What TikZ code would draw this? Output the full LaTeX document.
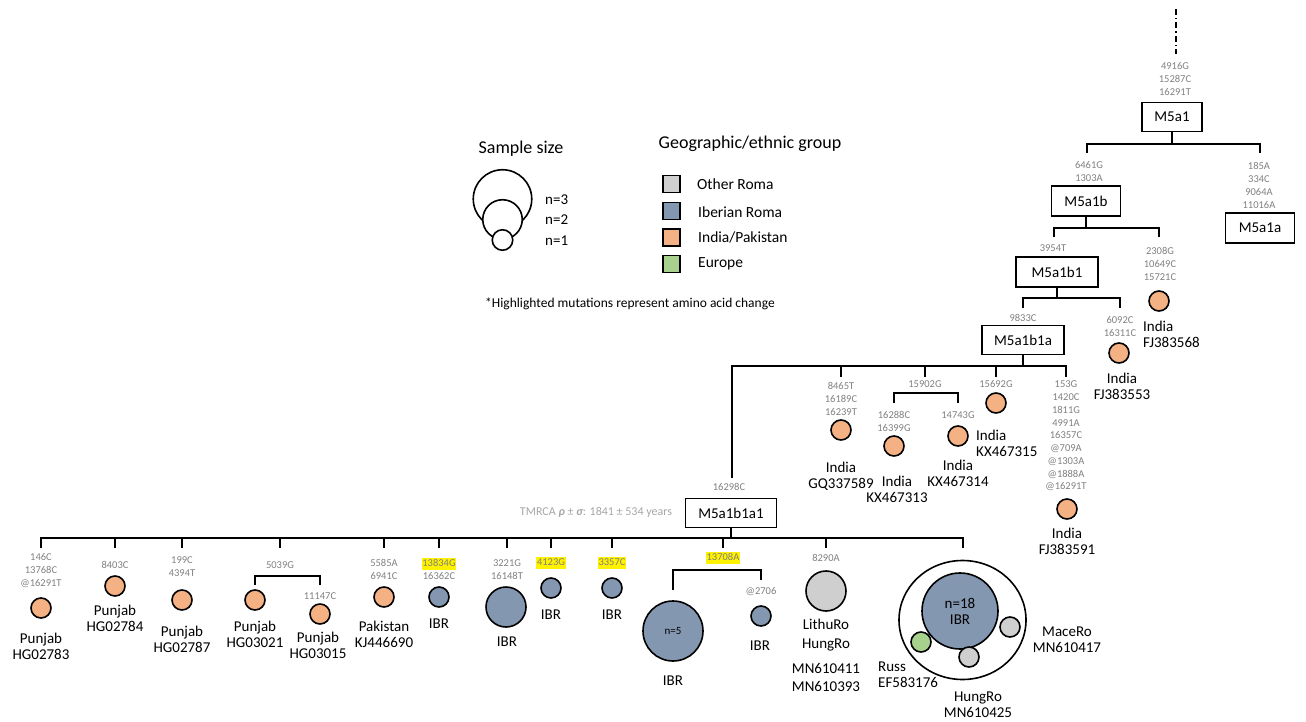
\documentclass[tikz,border=0pt]{standalone}
\usepackage{fontspec}
\setmainfont{Carlito}
\usepackage{xcolor}
\usetikzlibrary{shapes.geometric}
\definecolor{orng}{HTML}{F4B183}
\definecolor{ibr}{HTML}{8497B0}
\definecolor{oth}{HTML}{CFCFCF}
\definecolor{eur}{HTML}{A9D18E}
\definecolor{mut}{HTML}{808080}
\definecolor{tmr}{HTML}{A6A6A6}
\newcommand{\hlm}[1]{{\setlength{\fboxsep}{0.8pt}\colorbox{yellow}{\rule[-2.4pt]{0pt}{9.6pt}#1}}}
\tikzset{
  tline/.style={line width=1.7pt, black},
  hbox/.style={draw, line width=1.7pt, inner sep=0pt, font=\fontsize{15}{16}\selectfont},
  mutn/.style={text=mut, font=\fontsize{10.5}{13}\selectfont, align=center, inner sep=0pt},
  lbl/.style={font=\fontsize{15}{16}\selectfont, align=center, inner sep=0pt},
  smp/.style={circle, draw, line width=1.6pt, inner sep=0pt},
  s1/.style={smp, minimum size=20pt},
  s2/.style={smp, minimum size=40pt},
  oc/.style={s1, fill=orng},
  bc/.style={s1, fill=ibr},
  gc/.style={s1, fill=oth},
  leg/.style={draw, line width=1.4pt, minimum size=17pt, inner sep=0pt},
  legt/.style={font=\fontsize{15.5}{16}\selectfont, anchor=west, inner sep=0pt}
}
\begin{document}
\begin{tikzpicture}[x=1pt,y=-1pt]
\useasboundingbox (0,0) rectangle (1306,722);

% ---------- legend ----------
\node[font=\fontsize{18}{20}\selectfont, inner sep=0pt] (ssz) at (521,149) {Sample size};
\node[smp, fill=white, minimum size=58.5pt] (lc3) at (502.5,199) {};
\node[smp, fill=white, minimum size=39.5pt] (lc2) at (502.5,219.5) {};
\node[smp, fill=white, minimum size=20.5pt] (lc1) at (502.5,240) {};
\node[lbl, anchor=west] (n3) at (545,200) {n=3};
\node[lbl, anchor=west] (n2) at (545,220) {n=2};
\node[lbl, anchor=west] (n1) at (545,241) {n=1};

\node[font=\fontsize{18}{20}\selectfont, inner sep=0pt] (geo) at (750,144) {Geographic/ethnic group};
\node[leg, fill=oth] (sq1) at (671.5,184) {};
\node[leg, fill=ibr] (sq2) at (671.5,211) {};
\node[leg, fill=orng] (sq3) at (671.5,237.5) {};
\node[leg, fill=eur] (sq4) at (671.5,264) {};
\node[legt] (t1) at (697,184) {Other Roma};
\node[legt] (t2) at (698,212) {Iberian Roma};
\node[legt] (t3) at (698,237.5) {India/Pakistan};
\node[legt] (t4) at (698,264) {Europe};
\node[font=\fontsize{13.5}{15}\selectfont, inner sep=0pt] (foot) at (630,304) {*Highlighted mutations represent amino acid change};

% ---------- top of tree ----------
\coordinate (top) at (1176,9);
\coordinate (topend) at (1176,54);
\draw[line width=1.7pt, dash pattern=on 6pt off 3pt on 1.5pt off 3pt] (top) -- (topend);
\node[mutn] (mu1) at (1175,79) {4916G\\15287C\\16291T};
\node[hbox, minimum width=60pt, minimum height=29pt] (M5a1) at (1172,117) {M5a1};

\coordinate (h1) at (1172,144);
\coordinate (d1a) at (1087,153);
\coordinate (d1b) at (1260,153);
\draw[tline] (M5a1.south) -- (h1);
\draw[tline] (d1a) -- (d1a |- h1) -- (d1b |- h1) -- (d1b);

\node[mutn] (mu2) at (1089,171.5) {6461G\\1303A};
\node[hbox, minimum width=69pt, minimum height=30pt] (M5a1b) at (1086,201) {M5a1b};
\node[mutn] (mu3) at (1259,185.5) {185A\\334C\\9064A\\11016A};
\node[hbox, minimum width=69pt, minimum height=30pt] (M5a1a) at (1260,228) {M5a1a};

\coordinate (h2) at (1086,228);
\coordinate (d2a) at (1054,237);
\coordinate (d2b) at (1159,237);
\draw[tline] (M5a1b.south) -- (h2);
\draw[tline] (d2a) -- (d2a |- h2) -- (d2b |- h2) -- (d2b);

\node[mutn] (mu4) at (1053,248) {3954T};
\node[hbox, minimum width=82pt, minimum height=30pt] (M5a1b1) at (1057,272) {M5a1b1};
\node[mutn] (mu5) at (1160,264) {2308G\\10649C\\15721C};
\node[oc] (c1) at (1159,301) {};
\node[lbl, align=left, anchor=west] (l1) at (1143,334) {India\\FJ383568};

\coordinate (h3) at (1057,298);
\coordinate (d3a) at (1023,308);
\coordinate (d3b) at (1120,308);
\draw[tline] (M5a1b1.south) -- (h3);
\draw[tline] (d3a) -- (d3a |- h3) -- (d3b |- h3) -- (d3b);

\node[mutn] (mu6) at (1023,318) {9833C};
\node[hbox, minimum width=82pt, minimum height=29pt] (M5a1b1a) at (1023,340) {M5a1b1a};
\node[mutn] (mu7) at (1120,326.5) {6092C\\16311C};
\node[oc] (c2) at (1119,353) {};
\node[lbl] (l2) at (1122,386) {India\\FJ383553};

% ---------- M5a1b1a branches ----------
\coordinate (h4) at (1023,366);
\coordinate (d4z) at (732,478);
\coordinate (d4a) at (841,377);
\coordinate (d4b) at (925,377);
\coordinate (d4c) at (996,377);
\coordinate (d4d) at (1066,377);
\draw[tline] (M5a1b1a.south) -- (h4);
\draw[tline] (d4z) -- (d4z |- h4) -- (d4d |- h4) -- (d4d);
\draw[tline] (d4a |- h4) -- (d4a);
\draw[tline] (d4b |- h4) -- (d4b);
\draw[tline] (d4c |- h4) -- (d4c);

\node[mutn] (mu8) at (841,399) {8465T\\16189C\\16239T};
\node[oc] (c3) at (841,430) {};
\node[lbl] (l3) at (841,476.5) {India\\GQ337589};

\node[mutn] (mu9) at (925,384) {15902G};
\coordinate (h5) at (925,393);
\coordinate (d5a) at (894,403);
\coordinate (d5b) at (958,403);
\draw[tline] (d5a) -- (d5a |- h5) -- (d5b |- h5) -- (d5b);
\node[mutn] (mu10) at (894,421.5) {16288C\\16399G};
\node[oc] (c4) at (894,446) {};
\node[lbl] (l4) at (897,489) {India\\KX467313};
\node[mutn] (mu11) at (958,415) {14743G};
\node[oc] (c5) at (958,436) {};
\node[lbl] (l5) at (958,473.5) {India\\KX467314};

\node[mutn] (mu12) at (996,384) {15692G};
\node[oc] (c6) at (996,403) {};
\node[lbl, align=left, anchor=west] (l6) at (976,443) {India\\KX467315};

\node[mutn, font=\fontsize{10.5}{12.75}\selectfont] (mu13) at (1066,436) {153G\\1420C\\1811G\\4991A\\16357C\\@709A\\@1303A\\@1888A\\@16291T};
\node[oc] (c7) at (1067,509) {};
\node[lbl] (l7) at (1067,541.5) {India\\FJ383591};

% ---------- M5a1b1a1 ----------
\node[mutn] (mu14) at (729,487) {16298C};
\node[hbox, minimum width=91pt, minimum height=29pt] (M5a1b1a1) at (731,513) {M5a1b1a1};
\node[text=tmr, font=\fontsize{12}{14}\selectfont, inner sep=0pt] (tmrca) at (596,512) {TMRCA {\bfseries\itshape ρ} ± {\bfseries\itshape σ}: 1841 ± 534 years};

\coordinate (h6) at (731,538);
\draw[tline] (M5a1b1a1.south) -- (h6);
\coordinate (e1) at (41,548);
\coordinate (e2) at (115,548);
\coordinate (e3) at (182,548);
\coordinate (e4) at (280,548);
\coordinate (e5) at (384,548);
\coordinate (e6) at (439,548);
\coordinate (e7) at (507,548);
\coordinate (e8) at (551,548);
\coordinate (e9) at (612,548);
\coordinate (e10) at (723,548);
\coordinate (e11) at (826,548);
\coordinate (e12) at (963,548);
\draw[tline] (e1) -- (e1 |- h6) -- (e12 |- h6) -- (e12);
\foreach \e in {e2,e3,e4,e5,e6,e7,e8,e9,e10,e11}{
  \draw[tline] (\e |- h6) -- (\e);
}

% leaves
\node[mutn] (mu15) at (41,571) {146C\\13768C\\@16291T};
\node[oc] (c8) at (41,608) {};
\node[lbl] (l8) at (41,646) {Punjab\\HG02783};

\node[mutn] (mu16) at (115,565) {8403C};
\node[oc] (c9) at (115,586) {};
\node[lbl] (l9) at (115,618.5) {Punjab\\HG02784};

\node[mutn] (mu17) at (182,566.5) {199C\\4394T};
\node[oc] (c10) at (182,600) {};
\node[lbl] (l10) at (182,639) {Punjab\\HG02787};

\node[mutn] (mu18) at (280,565) {5039G};
\coordinate (h7) at (280,576);
\coordinate (d7a) at (255,585);
\coordinate (d7b) at (320,585);
\draw[tline] (d7a) -- (d7a |- h7) -- (d7b |- h7) -- (d7b);
\node[oc] (c11) at (255,600) {};
\node[lbl] (l11) at (255,634) {Punjab\\HG03021};
\node[mutn] (mu19) at (320,596) {11147C};
\node[oc] (c12) at (320,614) {};
\node[lbl] (l12) at (318,645) {Punjab\\HG03015};

\node[mutn] (mu20) at (384,569) {5585A\\6941C};
\node[oc] (c13) at (384,597) {};
\node[lbl] (l13) at (384,634.5) {Pakistan\\KJ446690};

\node[mutn] (mu21) at (439,569) {\hlm{13834G}\\16362C};
\node[bc] (c14) at (439,597) {};
\node[lbl] (l14) at (439,624) {IBR};

\node[mutn] (mu22) at (507,570) {3221G\\16148T};
\node[s2, fill=ibr] (c15) at (506,607) {};
\node[lbl] (l15) at (507,642) {IBR};

\node[mutn] (mu23) at (551,563) {\hlm{4123G}};
\node[bc] (c16) at (551,588) {};
\node[lbl] (l16) at (551,615) {IBR};

\node[mutn] (mu24) at (612,563) {\hlm{3357C}};
\node[bc] (c17) at (612,588) {};
\node[lbl] (l17) at (612,615) {IBR};

\node[mutn] (mu25) at (723,558) {\hlm{13708A}};
\coordinate (h8) at (723,570);
\coordinate (d8a) at (673,590);
\coordinate (d8b) at (761,580);
\draw[tline] (d8a) -- (d8a |- h8) -- (d8b |- h8) -- (d8b);
\node[smp, fill=ibr, minimum size=60pt, font=\fontsize{11}{12}\selectfont] (c18) at (673,631) {n=5};
\node[lbl] (l18) at (673,681) {IBR};
\node[mutn] (mu26) at (761,592) {@2706};
\node[bc] (c19) at (761,616) {};
\node[lbl] (l19) at (760,646) {IBR};

\node[mutn] (mu27) at (826,558) {8290A};
\node[s2, fill=oth] (c20) at (826,591) {};
\node[lbl, font=\fontsize{15}{19}\selectfont] (l20) at (826,635.5) {LithuRo\\HungRo};
\node[lbl, font=\fontsize{15}{18}\selectfont] (l21) at (826,677) {MN610411\\MN610393};

% big cluster
\node[ellipse, draw, line width=1.6pt, fill=white, inner sep=0pt, minimum width=127pt, minimum height=119pt] (big) at (962.5,620) {};
\node[smp, fill=ibr, minimum size=76pt, font=\fontsize{15}{16}\selectfont, align=center] (c21) at (960,611) {n=18\\IBR};
\node[s1, fill=eur] (c22) at (921,642) {};
\node[gc] (c23) at (969,657) {};
\node[gc] (c24) at (1010,627) {};
\node[lbl, align=left, anchor=west] (l22) at (878,674.5) {Russ\\EF583176};
\node[lbl] (l23) at (978,704.5) {HungRo\\MN610425};
\node[lbl] (l24) at (1067,640) {MaceRo\\MN610417};
\end{tikzpicture}
\end{document}
